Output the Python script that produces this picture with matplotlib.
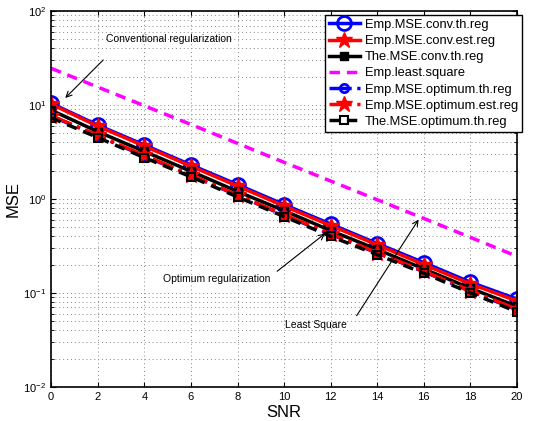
import matplotlib.pyplot as plt
import numpy as np

plt.rcParams['font.family'] = ['Liberation Sans', 'DejaVu Sans']

snr = [0, 2, 4, 6, 8, 10, 12, 14, 16, 18, 20]

emp_conv_th = [10.4, 6.1, 3.75, 2.3, 1.42, 0.87, 0.54, 0.335, 0.21, 0.13, 0.086]
emp_conv_est = [10.2, 5.95, 3.65, 2.23, 1.37, 0.84, 0.52, 0.325, 0.2, 0.125, 0.082]
the_conv_th = [8.8, 5.2, 3.2, 1.97, 1.2, 0.75, 0.46, 0.29, 0.18, 0.112, 0.072]
emp_ls = [24.5, 15.5, 9.8, 6.2, 3.9, 2.45, 1.55, 0.98, 0.62, 0.39, 0.245]
emp_opt_th = [7.6, 4.7, 2.85, 1.78, 1.09, 0.67, 0.42, 0.265, 0.168, 0.104, 0.066]
emp_opt_est = [7.7, 4.75, 2.9, 1.8, 1.1, 0.68, 0.425, 0.268, 0.17, 0.106, 0.067]
the_opt_th = [7.3, 4.5, 2.75, 1.72, 1.05, 0.65, 0.4, 0.255, 0.162, 0.1, 0.063]

fig = plt.figure(figsize=(5.33, 4.21), dpi=100)
ax = fig.add_axes([0.096, 0.081, 0.874, 0.893])

ax.semilogy(snr, emp_conv_th, 'b-o', lw=2.5, ms=10, mfc='none', mew=2,
            label='Emp.MSE.conv.th.reg')
ax.semilogy(snr, emp_conv_est, 'r-*', lw=2.5, ms=12,
            label='Emp.MSE.conv.est.reg')
ax.semilogy(snr, the_conv_th, 'k-s', lw=2.5, ms=6,
            label='The.MSE.conv.th.reg')
ax.semilogy(snr, emp_ls, '--', color='#ff00ff', lw=2.5, dashes=(3, 2),
            label='Emp.least.square')
ax.semilogy(snr, emp_opt_th, 'b-.o', lw=2.5, ms=6, mfc='none', mew=2,
            label='Emp.MSE.optimum.th.reg')
ax.semilogy(snr, emp_opt_est, 'r-.*', lw=2.5, ms=12,
            label='Emp.MSE.optimum.est.reg')
ax.semilogy(snr, the_opt_th, 'k--s', lw=2.5, ms=6, mfc='none', mew=1.5,
            dashes=(3, 2), label='The.MSE.optimum.th.reg')

ax.set_xlim(0, 20)
ax.set_ylim(1e-2, 1e2)
ax.set_xticks(range(0, 21, 2))
ax.set_xlabel('SNR', fontsize=12, labelpad=2)
ax.set_ylabel('MSE', fontsize=12, labelpad=2)
ax.tick_params(which='both', direction='in', top=True, right=True, labelsize=8)
ax.grid(True, which='major', linestyle=(0, (1, 3)), color='#888888', lw=0.7)
ax.grid(True, which='minor', axis='y', linestyle=(0, (1, 3)), color='#888888', lw=0.7)
for s in ax.spines.values():
    s.set_linewidth(1.2)

ax.legend(loc='upper right', bbox_to_anchor=(522 / 533, 1 - 15 / 421),
          bbox_transform=fig.transFigure, borderaxespad=0,
          fontsize=9.3, handlelength=2.4, borderpad=0.3, handletextpad=0.4,
          labelspacing=0.32, fancybox=False, edgecolor='black', framealpha=1)

arrow = dict(arrowstyle='->', color='black', lw=0.8)
ax.annotate('', xy=(0.52, 11.3), xytext=(2.32, 31.6), arrowprops=arrow)
ax.text(5.06, 50, 'Conventional regularization', fontsize=7.5, ha='center', va='center')
ax.annotate('', xy=(11.85, 0.446), xytext=(9.61, 0.163), arrowprops=arrow)
ax.text(7.1, 0.14, 'Optimum regularization', fontsize=7.5, ha='center', va='center')
ax.annotate('', xy=(15.84, 0.64), xytext=(13.05, 0.054), arrowprops=arrow)
ax.text(11.37, 0.046, 'Least Square', fontsize=7.5, ha='center', va='center')

plt.savefig('out.png', dpi=100)
